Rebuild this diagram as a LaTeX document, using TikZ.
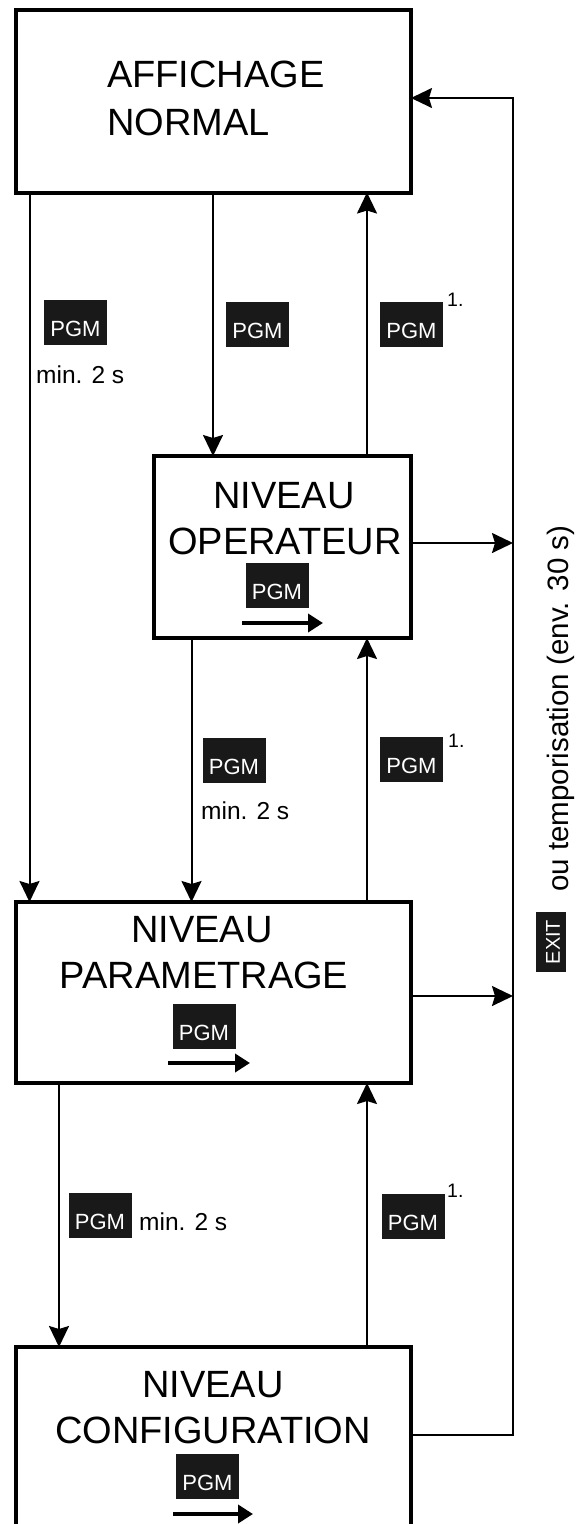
\documentclass[tikz,border=0pt]{standalone}
\usepackage{fontspec}
\setmainfont{Liberation Sans}
\usetikzlibrary{arrows.meta}
\begin{document}
\begin{tikzpicture}[x=1pt,y=-1pt,
  box/.style={draw=black, line width=4pt, rectangle, inner sep=0pt, outer sep=0pt, fill=white},
  big/.style={font=\fontsize{38}{46}\selectfont, inner sep=0pt, anchor=base},
  pgmkey/.style={fill=black!90, inner sep=0pt, outer sep=0pt, minimum width=63pt, minimum height=45pt},
  keytxt/.style={text=white, font=\fontsize{22}{26}\selectfont, inner sep=0pt, anchor=base},
  lbl/.style={font=\fontsize{24.5}{28}\selectfont, inner sep=0pt, anchor=base west},
  note/.style={font=\fontsize{19.5}{22}\selectfont, inner sep=0pt, anchor=base west},
  arr/.style={line width=2pt, -{Stealth[length=21pt,width=20pt,inset=3pt]}},
  keyarr/.style={line width=4pt, -{Triangle[length=15pt,width=18pt]}},
]
\useasboundingbox (0,0) rectangle (576,1524);
\clip (0,0) rectangle (576,1524);

% boxes
\node[box, minimum width=395.5pt, minimum height=182.5pt] (A) at (213.25,101.25) {};
\node[box, minimum width=257pt, minimum height=182pt] (O) at (282.5,547) {};
\node[box, minimum width=395.5pt, minimum height=181pt] (P) at (213.25,992.5) {};
\node[box, minimum width=395.5pt, minimum height=213pt] (C) at (213.25,1453.5) {};

% box texts
\node[big, anchor=base west] (a1) at (107,87) {AFFICHAGE};
\node[big, anchor=base west] (a2) at (107,135) {NORMAL};
\node[big] (o1) at (284,508) {NIVEAU};
\node[big] (o2) at (285,554) {OPERATEUR};
\node[big] (p1) at (202,942) {NIVEAU};
\node[big] (p2) at (204,988) {PARAMETRAGE};
\node[big] (c1) at (213,1397) {NIVEAU};
\node[big] (c2) at (213,1443) {CONFIGURATION};

% x positions of vertical connectors
\coordinate (xL) at (29.5,0);
\coordinate (xM) at (213,0);
\coordinate (xR) at (367,0);
\coordinate (xO) at (191.5,0);
\coordinate (xP) at (59,0);
% return line corners
\coordinate (rTop) at (513,98);
\coordinate (rBot) at (513,1435);
\coordinate (rO) at (513,543);
\coordinate (rP) at (513,996);

% vertical connectors
\draw[arr] (A.south -| xL) -- (P.north -| xL);
\draw[arr] (A.south -| xM) -- (O.north -| xM);
\draw[arr] (O.north -| xR) -- (A.south -| xR);
\draw[arr] (O.south -| xO) -- (P.north -| xO);
\draw[arr] (P.north -| xR) -- (O.south -| xR);
\draw[arr] (P.south -| xP) -- (C.north -| xP);
\draw[arr] (C.north -| xR) -- (P.south -| xR);

% exit / timeout return line
\draw[arr] (C.east |- rBot) -- (rBot) -- (rTop) -- (A.east |- rTop);
\draw[arr] (O.east |- rO) -- (rO);
\draw[arr] (P.east |- rP) -- (rP);

% PGM keys on connectors
\node[pgmkey] (k1) at (75.5,322) {};
\node[keytxt] (k1t) at ([yshift=-14pt]k1.center) {PGM};
\node[lbl] (m1) at (36,383) {min. 2 s};

\node[pgmkey] (k2) at (257.5,324.5) {};
\node[keytxt] (k2t) at ([yshift=-14pt]k2.center) {PGM};

\node[pgmkey] (k3) at (411.5,324.5) {};
\node[keytxt] (k3t) at ([yshift=-14pt]k3.center) {PGM};
\node[note] (n3) at (447,306) {1.};

\node[pgmkey] (k5) at (234,760.5) {};
\node[keytxt] (k5t) at ([yshift=-14pt]k5.center) {PGM};
\node[lbl] (m5) at (201,819) {min. 2 s};

\node[pgmkey] (k6) at (411.5,759.5) {};
\node[keytxt] (k6t) at ([yshift=-14pt]k6.center) {PGM};
\node[note] (n6) at (448,747) {1.};

\node[pgmkey] (k8) at (100,1215) {};
\node[keytxt] (k8t) at ([yshift=-14pt]k8.center) {PGM};
\node[lbl] (m8) at (139,1230) {min. 2 s};

\node[pgmkey] (k9) at (413,1216) {};
\node[keytxt] (k9t) at ([yshift=-14pt]k9.center) {PGM};
\node[note] (n9) at (447,1197) {1.};

% PGM keys inside boxes, with arrows
\node[pgmkey] (k4) at (277,585) {};
\node[keytxt] (k4t) at ([yshift=-14pt]k4.center) {PGM};
\draw[keyarr] (242,623) -- (323,623);

\node[pgmkey] (k7) at (204,1026) {};
\node[keytxt] (k7t) at ([yshift=-14pt]k7.center) {PGM};
\draw[keyarr] (168,1063) -- (250,1063);

\node[pgmkey] (k10) at (207.5,1476.5) {};
\node[keytxt] (k10t) at ([yshift=-14pt]k10.center) {PGM};
\draw[keyarr] (173,1514) -- (253,1514);

% EXIT key and rotated text
\node[pgmkey, minimum width=60pt, minimum height=30pt, rotate=90] (ex) at (551,942) {};
\node[text=white, font=\fontsize{20}{24}\selectfont, inner sep=0pt, rotate=90] (ext) at ([xshift=2pt]ex.center) {EXIT};
\node[font=\fontsize{29.5}{34}\selectfont, inner sep=0pt, anchor=base west, rotate=90] (tempo) at (568,892) {ou temporisation (env. 30 s)};
\end{tikzpicture}
\end{document}
